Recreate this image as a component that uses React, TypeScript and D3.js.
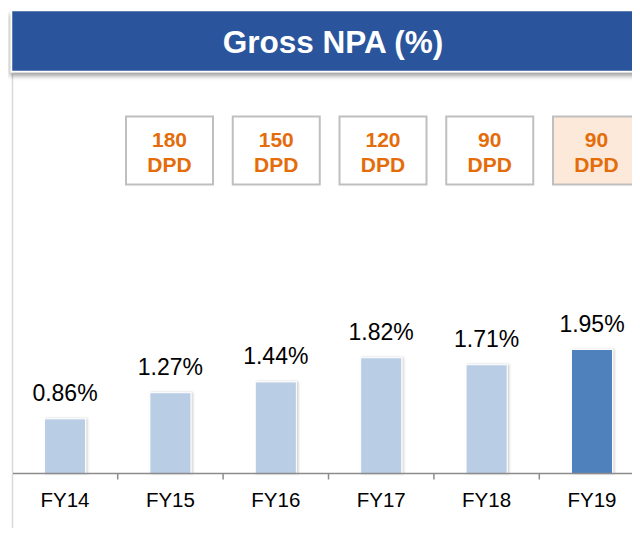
import { useEffect, useRef } from 'react';
import * as d3 from 'd3';

// Gross NPA by financial year
const years = ['FY14', 'FY15', 'FY16', 'FY17', 'FY18', 'FY19'];
const npaValues = [0.86, 1.27, 1.44, 1.82, 1.71, 1.95];
// recognition norm (days past due) noted above each year from FY15
const dpdYears = ['FY15', 'FY16', 'FY17', 'FY18', 'FY19'];
const dpdNorms = ['180', '150', '120', '90', '90'];
const highlightYear = 'FY19';

const coloursDict: Record<string, string> = {
  header: '#2c559d',
  bar: '#b9cde5',
  barHighlight: '#4f81bd',
  axis: '#8c8c8c',
  frame: '#d9d9d9',
  dpdText: '#e46c0a',
  dpdBorder: '#bfbfbf',
  dpdFill: '#fde9d9',
  text: '#000000',
};

const GrossNpaChart = () => {
  const svgRef = useRef<HTMLDivElement>(null);

  useEffect(() => {
    const holder = d3.select(svgRef.current);
    holder.selectAll('*').remove();

    const width = 640;
    const height = 536;
    const font = 'Liberation Sans, Arial, sans-serif';

    const svg = holder
      .append('svg')
      .attr('width', width)
      .attr('height', height)
      .style('display', 'block');

    const defs = svg.append('defs');
    const headShadow = defs
      .append('filter')
      .attr('id', 'head-shadow')
      .attr('x', '-5%')
      .attr('y', '-20%')
      .attr('width', '110%')
      .attr('height', '150%');
    headShadow
      .append('feDropShadow')
      .attr('dx', -1)
      .attr('dy', 4)
      .attr('stdDeviation', 2)
      .attr('flood-color', '#000')
      .attr('flood-opacity', 0.35);

    const barShadow = defs
      .append('filter')
      .attr('id', 'bar-shadow')
      .attr('x', '-20%')
      .attr('y', '-10%')
      .attr('width', '150%')
      .attr('height', '120%');
    barShadow
      .append('feDropShadow')
      .attr('dx', 1.5)
      .attr('dy', 0)
      .attr('stdDeviation', 1)
      .attr('flood-color', '#000')
      .attr('flood-opacity', 0.2);

    // frame line on the left
    svg
      .append('line')
      .attr('x1', 12.5)
      .attr('x2', 12.5)
      .attr('y1', 74)
      .attr('y2', height)
      .attr('stroke', coloursDict.frame)
      .attr('stroke-width', 1.5);

    // header band
    svg
      .append('rect')
      .attr('x', 11.5)
      .attr('y', 10.5)
      .attr('width', width + 10)
      .attr('height', 61)
      .attr('fill', coloursDict.header)
      .attr('stroke', '#ffffff')
      .attr('stroke-width', 1.5)
      .attr('filter', 'url(#head-shadow)');

    svg
      .append('text')
      .attr('x', 333)
      .attr('y', 52.5)
      .attr('text-anchor', 'middle')
      .style('font-family', font)
      .style('font-weight', 'bold')
      .style('font-size', '31.5px')
      .attr('fill', '#ffffff')
      .text('Gross NPA (%)');

    // scales
    const xScale = d3
      .scaleBand()
      .domain(years)
      .range([12.3, 644.7])
      .paddingInner(0.61)
      .paddingOuter(0.305);

    const yScale = d3.scaleLinear().domain([0, 2.5]).range([473.5, 314.5]);

    // the DPD boxes sit a touch wider apart than the bars
    const boxScale = d3.scalePoint().domain(dpdYears).range([169.5, 596.5]);

    const boxWidth = 87;
    const boxGroup = svg.append('g');
    dpdYears.forEach((yr, i) => {
      const cx = boxScale(yr) as number;
      const g = boxGroup.append('g');
      g.append('rect')
        .attr('x', cx - boxWidth / 2)
        .attr('y', 116.5)
        .attr('width', boxWidth)
        .attr('height', 68)
        .attr('fill', yr === highlightYear ? coloursDict.dpdFill : '#ffffff')
        .attr('stroke', coloursDict.dpdBorder)
        .attr('stroke-width', 2);
      g.append('text')
        .attr('x', cx)
        .attr('y', 146.7)
        .attr('text-anchor', 'middle')
        .style('font-family', font)
        .style('font-weight', 'bold')
        .style('font-size', '21px')
        .attr('fill', coloursDict.dpdText)
        .text(dpdNorms[i]);
      g.append('text')
        .attr('x', cx)
        .attr('y', 171.7)
        .attr('text-anchor', 'middle')
        .style('font-family', font)
        .style('font-weight', 'bold')
        .style('font-size', '21px')
        .attr('fill', coloursDict.dpdText)
        .text('DPD');
    });

    // bars
    const barData = years.map((y, i) => ({ year: y, value: npaValues[i] }));

    svg
      .append('g')
      .selectAll('rect')
      .data(barData)
      .enter()
      .append('rect')
      .attr('x', (d) => xScale(d.year) as number)
      .attr('y', (d) => yScale(d.value))
      .attr('width', xScale.bandwidth())
      .attr('height', (d) => yScale(0) - yScale(d.value))
      .attr('fill', (d) => (d.year === highlightYear ? coloursDict.barHighlight : coloursDict.bar))
      .attr('stroke', '#ffffff')
      .attr('stroke-width', 1)
      .attr('filter', 'url(#bar-shadow)');

    svg
      .append('g')
      .selectAll('text')
      .data(barData)
      .enter()
      .append('text')
      .attr('x', (d) => (xScale(d.year) as number) + xScale.bandwidth() / 2)
      .attr('y', (d) => yScale(d.value) - 17.5)
      .attr('text-anchor', 'middle')
      .style('font-family', font)
      .style('font-size', '23px')
      .attr('fill', coloursDict.text)
      .text((d) => `${d.value.toFixed(2)}%`);

    // category axis
    const axisY = yScale(0);
    svg
      .append('line')
      .attr('x1', 13)
      .attr('x2', width)
      .attr('y1', axisY)
      .attr('y2', axisY)
      .attr('stroke', coloursDict.axis)
      .attr('stroke-width', 1.5);

    const step = xScale.step();
    svg
      .append('g')
      .selectAll('line')
      .data(years.slice(1))
      .enter()
      .append('line')
      .attr('x1', (d) => (xScale(d) as number) - (step - xScale.bandwidth()) / 2)
      .attr('x2', (d) => (xScale(d) as number) - (step - xScale.bandwidth()) / 2)
      .attr('y1', axisY)
      .attr('y2', axisY + 6)
      .attr('stroke', coloursDict.axis)
      .attr('stroke-width', 1.5);

    svg
      .append('g')
      .selectAll('text')
      .data(years)
      .enter()
      .append('text')
      .attr('x', (d) => (xScale(d) as number) + xScale.bandwidth() / 2)
      .attr('y', 506.7)
      .attr('text-anchor', 'middle')
      .style('font-family', font)
      .style('font-size', '20.5px')
      .attr('fill', coloursDict.text)
      .text((d) => d);
  }, []);

  return (
    <div style={{ width: 640, height: 536, margin: -8, overflow: 'hidden', background: '#fff' }}>
      <div ref={svgRef}></div>
    </div>
  );
};

export default function App() {
  return <GrossNpaChart />;
}
